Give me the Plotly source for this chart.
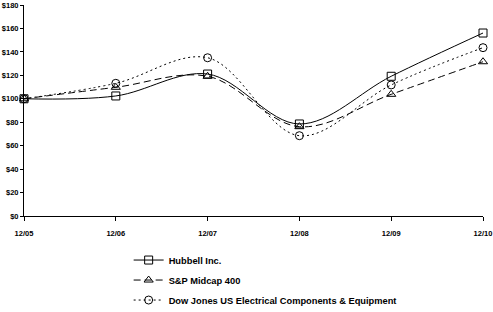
import plotly.graph_objects as go

periods = ["12/05", "12/06", "12/07", "12/08", "12/09", "12/10"]
hubbell = [100, 102.4, 121.1, 78.5, 119.2, 156.1]
sp_midcap = [100, 109.8, 119.2, 76.2, 103.8, 131.6]
dow_jones = [100, 113.2, 135.0, 68.5, 111.8, 143.6]
y_ticks = [0, 20, 40, 60, 80, 100, 120, 140, 160, 180]
y_labels = ["$" + str(v) for v in y_ticks]

series = [
    ("Hubbell Inc.", hubbell, "solid", "square-open"),
    ("S&P Midcap 400", sp_midcap, "7px,4px", "triangle-up-open"),
    ("Dow Jones US Electrical Components & Equipment", dow_jones, "2px,3px", "circle-open"),
]

x_idx = list(range(len(periods)))
fig = go.Figure()
for i, (name, vals, dash, sym) in enumerate(series):
    fig.add_trace(go.Scatter(
        x=x_idx, y=vals, name=name, mode="lines+markers",
        line=dict(color="black", width=1, dash=dash, shape="spline", smoothing=1.0),
        marker=dict(symbol=sym, size=8, color="black", line=dict(width=1, color="black")),
        cliponaxis=False, legendgroup=str(i),
    ))

fig.update_layout(
    width=493, height=312,
    margin=dict(l=24, r=10, t=5, b=96, autoexpand=False),
    paper_bgcolor="white", plot_bgcolor="white",
    font=dict(family="Liberation Sans, Arial", size=7.5, color="black"),
    showlegend=True,
    legend=dict(
        x=0.228, y=-0.14, xanchor="left", yanchor="top",
        font=dict(size=9.3, family="Liberation Sans, Arial", weight="bold"),
        tracegroupgap=1, bgcolor="rgba(0,0,0,0)",
    ),
    xaxis=dict(
        range=[0, 5], tickvals=x_idx, ticktext=["<b>" + p + "</b>" for p in periods],
        showline=True, linecolor="black", linewidth=1, ticks="outside", ticklen=4,
        tickcolor="black", showgrid=False, zeroline=False, ticklabelstandoff=6,
    ),
    yaxis=dict(
        range=[0, 180], tickvals=y_ticks, ticktext=["<b>" + t + "</b>" for t in y_labels],
        showline=True, linecolor="black", linewidth=1, ticks="outside", ticklen=3,
        tickcolor="black", showgrid=False, zeroline=False,
    ),
)
fig.write_html("out.html")
